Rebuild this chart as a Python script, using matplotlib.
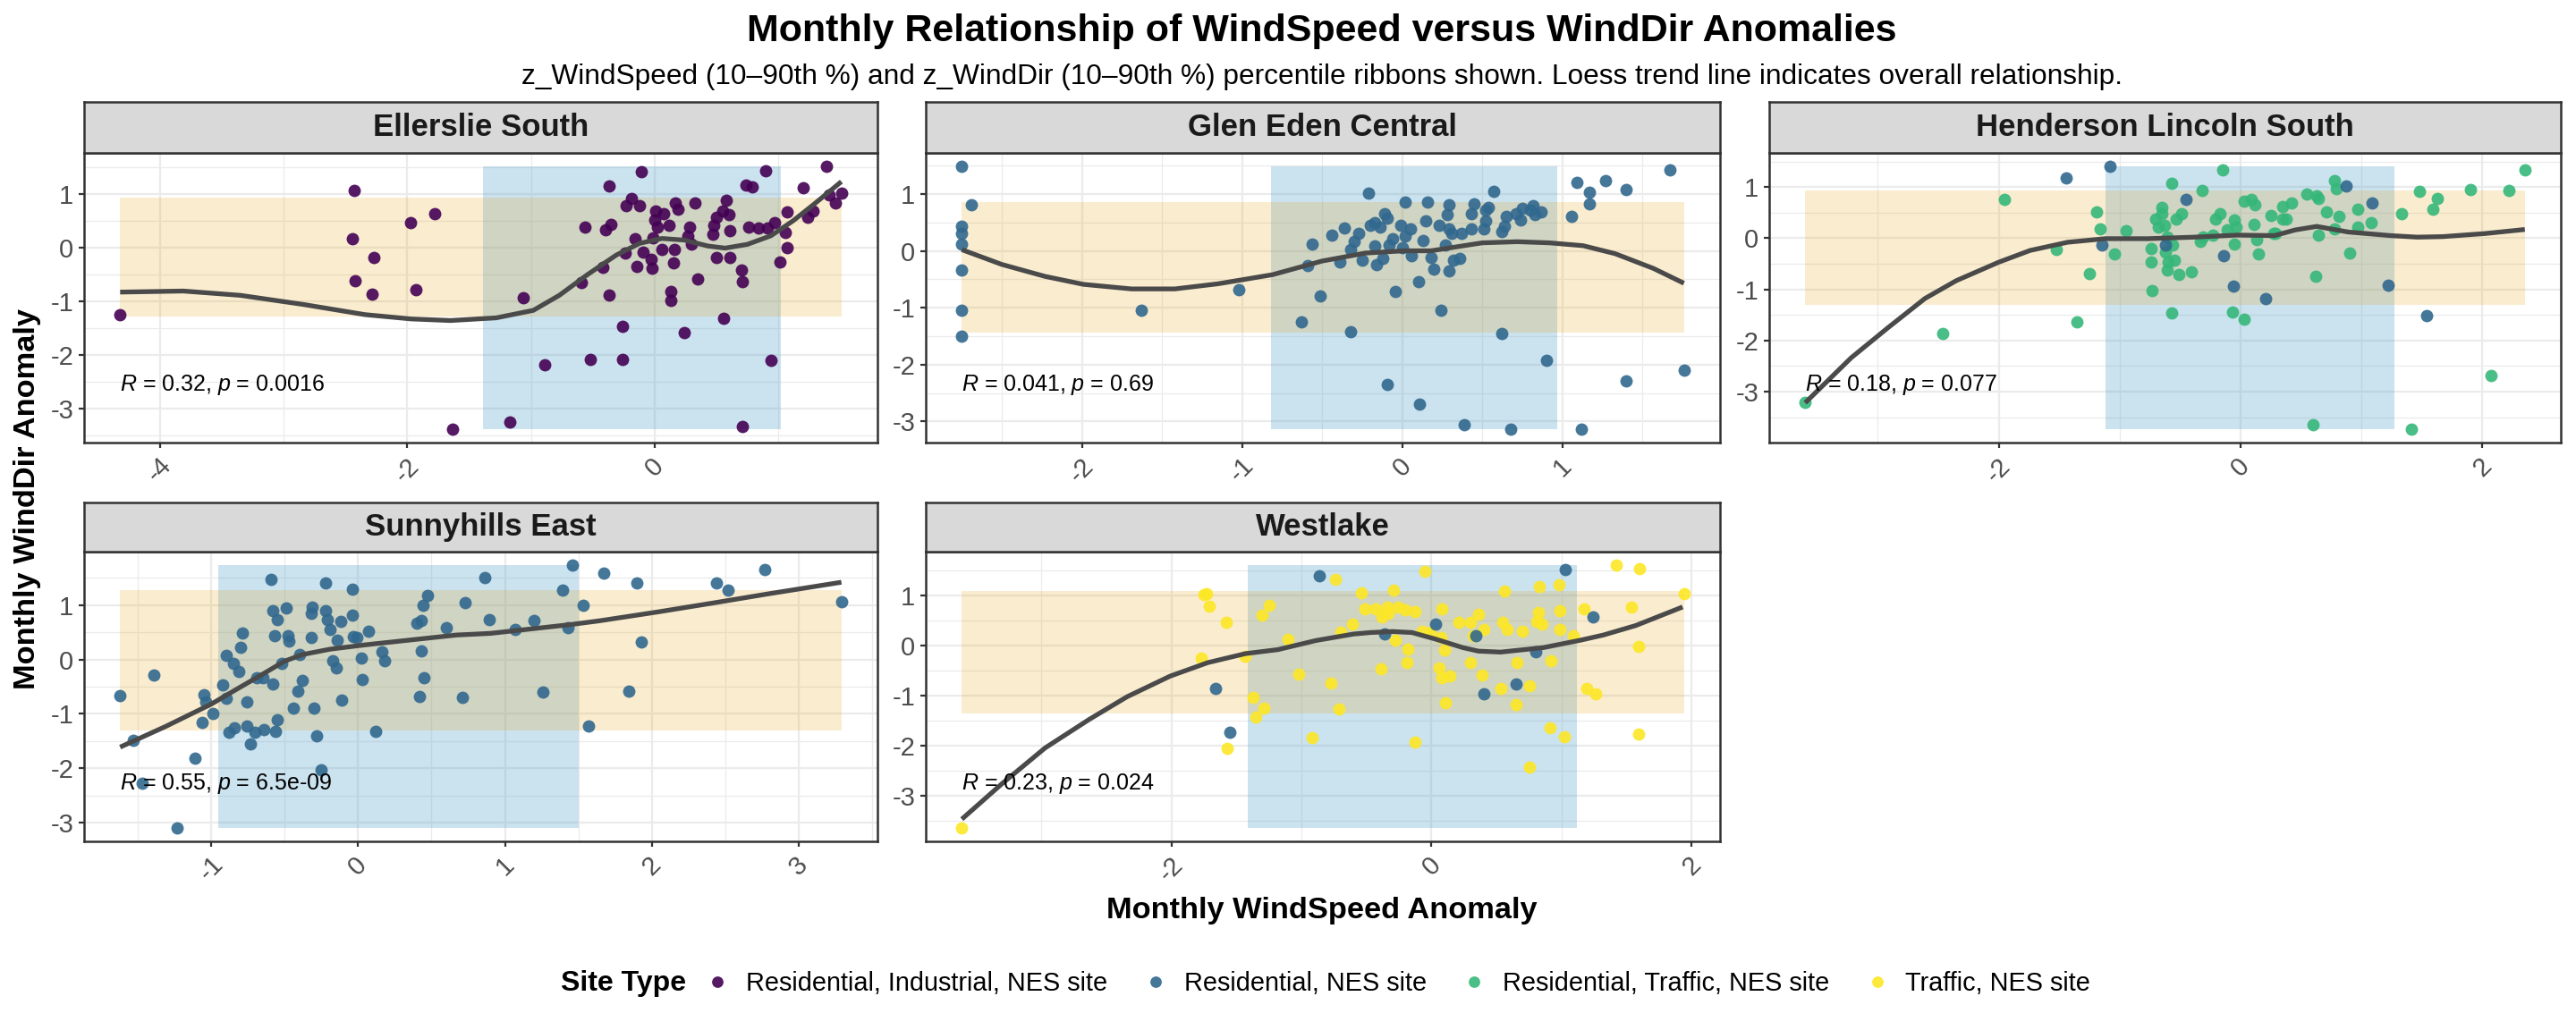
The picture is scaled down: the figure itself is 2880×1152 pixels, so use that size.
import numpy as np
import matplotlib
matplotlib.use("Agg")
import matplotlib.pyplot as plt
from matplotlib.lines import Line2D
from matplotlib.ticker import FixedLocator
import matplotlib.transforms as mtransforms

plt.rcParams['font.family'] = ['Liberation Sans', 'DejaVu Sans']
plt.rcParams['axes.unicode_minus'] = False
plt.rcParams['mathtext.fontset'] = 'custom'
plt.rcParams['mathtext.rm'] = 'Liberation Sans'
plt.rcParams['mathtext.it'] = 'Liberation Sans:italic'

# ---------------- data ----------------
site_names = ["Ellerslie South", "Glen Eden Central", "Henderson Lincoln South",
              "Sunnyhills East", "Westlake"]
site_types = ["Residential, Industrial, NES site", "Residential, NES site",
              "Residential, Traffic, NES site", "Traffic, NES site"]
type_colors = ["#440154", "#31688E", "#35B779", "#FDE725"]

# Ellerslie South (Residential, Industrial)
es_x = [-4.32, -2.43, -2.44, -2.42, -2.27, -2.28, -1.97, -1.78, -1.93, -1.63, -1.17, -1.06,
        -0.89, -0.59, -0.56, -0.52, -0.42, -0.40, -0.35, -0.37, -0.37, -0.26, -0.26, -0.24,
        -0.23, -0.19, -0.16, -0.14, -0.12, -0.11, -0.09, -0.03, -0.02, -0.01, 0.00, 0.01,
        0.02, 0.06, 0.07, 0.12, 0.13, 0.13, 0.15, 0.16, 0.17, 0.19, 0.24, 0.27, 0.28, 0.30,
        0.33, 0.35, 0.47, 0.48, 0.50, 0.50, 0.55, 0.56, 0.58, 0.60, 0.61, 0.61, 0.70, 0.71,
        0.71, 0.74, 0.79, 0.76, 0.84, 0.90, 0.91, 0.94, 0.97, 1.01, 1.06, 1.07, 1.07, 1.20,
        1.24, 1.28, 1.39, 1.41, 1.46, 1.51]
es_y = [-1.26, 1.07, 0.16, -0.61, -0.18, -0.87, 0.47, 0.64, -0.79, -3.39, -3.26, -0.93,
        -2.19, -0.65, 0.39, -2.09, -0.37, 0.34, 0.44, 1.15, -0.89, -1.47, -2.09, -0.10,
        0.79, 0.92, 0.17, -0.35, 0.79, 1.41, -0.09, -0.22, -0.39, 0.18, 0.52, 0.68,
        0.39, -0.03, 0.64, 0.41, -0.82, -0.98, -0.28, -0.04, 0.83, 0.72, -1.59, 0.22, 0.39, 0.06,
        0.84, -0.59, 0.25, 0.42, 0.56, -0.18, 0.69, -1.32, 0.88, 0.61, 0.31, -0.19, -0.42, -0.63,
        -3.34, 1.17, 1.13, 0.38, 0.37, 1.44, 0.36, -2.10, 0.47, -0.26, 0.28, 0.00, 0.66, 1.11,
        0.56, 0.68, 1.52, 0.99, 0.84, 1.02]
es_xq = [-1.39, 1.02]
es_yq = [-1.29, 0.94]
es_fit_x = [-4.32, -3.81, -3.35, -2.84, -2.34, -1.97, -1.65, -1.28, -0.98, -0.77, -0.54, -0.31,
            -0.12, 0.06, 0.24, 0.43, 0.57, 0.75, 0.94, 1.12, 1.30, 1.51]
es_fit_y = [-0.83, -0.81, -0.89, -1.06, -1.25, -1.33, -1.36, -1.31, -1.17, -0.89, -0.50, -0.14,
            0.08, 0.17, 0.14, 0.03, -0.01, 0.06, 0.22, 0.50, 0.83, 1.23]
es_stat = "$\\it{R}$ = 0.32, $\\it{p}$ = 0.0016"

# Glen Eden Central (Residential)
ge_x = [-2.75, -2.69, -2.75, -2.75, -2.75, -2.75, -2.75, -2.75, -1.63, -1.02, -0.63, -0.59,
        -0.56, -0.51, -0.44, -0.39, -0.36, -0.32, -0.32, -0.30, -0.27, -0.25, -0.21, -0.20,
        -0.17, -0.17, -0.16, -0.14, -0.12, -0.11, -0.09, -0.09, -0.08, -0.06, -0.04, -0.01,
        0.00, 0.02, 0.02, 0.05, 0.06, 0.10, 0.11, 0.13, 0.15, 0.16, 0.18, 0.20, 0.23, 0.24,
        0.27, 0.28, 0.29, 0.29, 0.29, 0.31, 0.32, 0.36, 0.37, 0.39, 0.43, 0.43, 0.45, 0.51,
        0.52, 0.52, 0.54, 0.57, 0.62, 0.62, 0.64, 0.65, 0.68, 0.71, 0.74, 0.75, 0.80, 0.82,
        0.83, 0.87, 0.90, 1.06, 1.09, 1.12, 1.17, 1.17, 1.27, 1.40, 1.40, 1.67, 1.76]
ge_y = [1.49, 0.81, 0.43, 0.30, 0.12, -0.34, -1.05, -1.50, -1.05, -0.68, -1.25, -0.26,
        0.12, -0.79, 0.28, -0.19, 0.40, 0.03, -1.43, 0.17, 0.31, -0.17, 1.01, 0.45,
        0.09, 0.49, -0.24, 0.41, -0.14, 0.65, 0.57, -2.35, 0.10, 0.21, -0.72, 0.45,
        0.06, 0.85, 0.26, 0.39, -0.08, -0.54, -2.69, 0.18, 0.52, 0.85, -0.12, -0.32, 0.45, -1.05,
        0.10, 0.64, 0.81, 0.39, -0.36, 0.31, -0.17, -0.13, 0.31, -3.05, 0.39, 0.65, 0.82, 0.39,
        0.52, 0.71, 0.76, 1.04, -1.46, 0.34, 0.43, 0.60, -3.14, 0.65, 0.54, 0.74, 0.71, 0.80,
        0.63, 0.69, -1.92, 0.60, 1.20, -3.14, 1.03, 0.83, 1.23, 1.07, -2.28, 1.42, -2.10]
ge_xq = [-0.82, 0.97]
ge_yq = [-1.44, 0.85]
ge_fit_x = [-2.75, -2.50, -2.23, -1.99, -1.69, -1.42, -1.15, -0.81, -0.50, -0.23, 0.01, 0.18,
            0.50, 0.72, 0.92, 1.13, 1.33, 1.57, 1.76]
ge_fit_y = [0.02, -0.24, -0.45, -0.59, -0.67, -0.67, -0.58, -0.42, -0.18, -0.04, 0.00, 0.00,
            0.14, 0.16, 0.14, 0.09, -0.05, -0.31, -0.57]
ge_stat = "$\\it{R}$ = 0.041, $\\it{p}$ = 0.69"

# Henderson Lincoln South (Residential, Traffic) + some Residential points
hl_x = [-3.60, -2.46, -1.95, -1.52, -1.35, -1.25, -1.19, -1.16, -1.04, -0.95, -0.74, -0.74,
        -0.73, -0.70, -0.68, -0.65, -0.65, -0.63, -0.62, -0.61, -0.61, -0.60, -0.57, -0.57,
        -0.56, -0.55, -0.53, -0.51, -0.49, -0.41, -0.33, -0.32, -0.31, -0.23, -0.21, -0.17,
        -0.15, -0.11, -0.07, -0.05, -0.05, -0.04, 0.03, 0.03, 0.09, 0.11, 0.12, 0.13, 0.15,
        0.25, 0.27, 0.29, 0.35, 0.35, 0.38, 0.42, 0.55, 0.60, 0.62, 0.63, 0.64, 0.64, 0.71,
        0.78, 0.78, 0.79, 0.81, 0.90, 0.97, 0.97, 1.08, 1.33, 1.41, 1.48, 1.59, 1.63, 1.90,
        2.07, 2.22, 2.35]
hl_y = [-3.21, -1.86, 0.76, -0.22, -1.63, -0.69, 0.51, 0.19, -0.30, 0.14, -0.20, -0.47,
        -1.02, 0.37, 0.21, 0.60, 0.48, 0.25, -0.27, 0.02, -0.62, -0.47, -1.47, 1.07,
        -0.13, -0.43, 0.37, -0.71, 0.47, -0.66, -0.07, 0.93, 0.02, 0.06, 0.38, 0.47,
        1.34, 0.16, -1.45, -0.11, 0.36, 0.21, 0.72, -1.59, 0.75, 0.27, 0.66, -0.03, -0.30,
        0.44, 0.10, 0.10, 0.61, 0.38, 0.38, 0.69, 0.87, -3.64, -0.74, 0.83, 0.77, 0.06, 0.51,
        1.13, 0.19, 0.96, 0.43, -0.29, 0.57, 0.21, 0.31, 0.48, -3.74, 0.92, 0.57, 0.78, 0.95,
        -2.68, 0.93, 1.34]
hl_res_x = [-1.44, -1.15, -1.08, -0.62, -0.45, -0.14, -0.06, 0.21, 0.87, 1.09, 1.22, 1.54]
hl_res_y = [1.18, -0.13, 1.41, -0.13, 0.75, -0.35, -0.94, -1.18, 1.02, 0.68, -0.92, -1.51]
hl_xq = [-1.12, 1.27]
hl_yq = [-1.31, 0.94]
hl_fit_x = [-3.60, -3.22, -2.92, -2.61, -2.35, -2.00, -1.74, -1.43, -1.12, -0.77, -0.38, -0.03,
            0.28, 0.45, 0.63, 0.89, 1.24, 1.46, 1.67, 2.02, 2.35]
hl_fit_y = [-3.22, -2.34, -1.76, -1.18, -0.83, -0.47, -0.24, -0.08, -0.01, -0.01, 0.02, 0.06,
            0.05, 0.16, 0.23, 0.12, 0.05, 0.02, 0.03, 0.09, 0.17]
hl_stat = "$\\it{R}$ = 0.18, $\\it{p}$ = 0.077"

# Sunnyhills East (Residential)
sh_x = [-1.62, -1.53, -1.47, -1.39, -1.23, -1.11, -1.06, -1.05, -1.04, -0.99, -0.92, -0.90,
        -0.90, -0.88, -0.85, -0.84, -0.81, -0.80, -0.79, -0.76, -0.76, -0.73, -0.70, -0.69,
        -0.65, -0.64, -0.59, -0.58, -0.58, -0.57, -0.56, -0.55, -0.55, -0.52, -0.49, -0.48,
        -0.47, -0.44, -0.41, -0.40, -0.38, -0.32, -0.32, -0.31, -0.30, -0.28, -0.25, -0.22,
        -0.22, -0.21, -0.19, -0.17, -0.15, -0.14, -0.12, -0.11, -0.04, -0.04, -0.03, -0.01,
        0.02, 0.03, 0.07, 0.12, 0.16, 0.18, 0.40, 0.42, 0.43, 0.43, 0.44, 0.45, 0.47, 0.60,
        0.71, 0.73, 0.86, 0.89, 1.07, 1.20, 1.26, 1.39, 1.43, 1.46, 1.53, 1.57, 1.67, 1.84,
        1.90, 1.93, 2.44, 2.52, 2.77, 3.29]
sh_y = [-0.66, -1.49, -2.28, -0.28, -3.10, -1.81, -1.15, -0.64, -0.78, -0.99, -0.47, 0.07,
        -0.72, -1.33, -0.08, -1.26, -0.22, 0.22, 0.48, -1.23, -0.78, -1.55, -1.34, -0.34,
        -0.33, -1.29, 1.48, -0.45, 0.90, 0.43, -1.32, -1.11, 0.73, -0.08, 0.95, 0.44,
        0.34, -0.89, -0.58, 0.10, -0.38, 0.40, 0.85, 0.96, -0.90, -1.41, -2.03, 1.40,
        0.89, 0.74, 0.56, -0.02, -0.16, 0.36, 0.70, -0.74, 1.29, 0.81, 0.42, 0.40,
        0.03, -0.36, 0.52, -1.32, 0.14, -0.02, 0.66, -0.68, 0.72, 0.16, 1.00, -0.33, 1.18, 0.59,
        -0.70, 1.04, 1.51, 0.73, 0.55, 0.71, -0.60, 1.27, 0.58, 1.74, 0.99, -1.22, 1.58, -0.58,
        1.40, 0.33, 1.40, 1.28, 1.66, 1.06]
sh_xq = [-0.95, 1.50]
sh_yq = [-1.30, 1.27]
sh_fit_x = [-1.62, -1.31, -1.00, -0.81, -0.65, -0.50, -0.38, -0.19, 0.05, 0.36, 0.67, 0.90,
            1.17, 1.44, 1.64, 2.03, 2.42, 2.80, 3.29]
sh_fit_y = [-1.61, -1.23, -0.82, -0.52, -0.27, -0.03, 0.09, 0.19, 0.27, 0.36, 0.45, 0.48,
            0.56, 0.64, 0.71, 0.87, 1.04, 1.21, 1.42]
sh_stat = "$\\it{R}$ = 0.55, $\\it{p}$ = 6.5e-09"

# Westlake (Traffic) + some Residential points
wl_x = [-3.61, -1.77, -1.75, -1.73, -1.71, -1.58, -1.57, -1.43, -1.37, -1.35, -1.30, -1.29,
        -1.25, -1.10, -1.02, -0.92, -0.77, -0.74, -0.71, -0.70, -0.61, -0.54, -0.51, -0.43,
        -0.39, -0.38, -0.34, -0.33, -0.29, -0.28, -0.26, -0.20, -0.19, -0.18, -0.13, -0.13,
        -0.07, -0.05, -0.01, 0.06, 0.07, 0.08, 0.08, 0.10, 0.11, 0.14, 0.21, 0.30, 0.30, 0.32,
        0.36, 0.39, 0.40, 0.53, 0.55, 0.56, 0.58, 0.65, 0.66, 0.70, 0.75, 0.75, 0.81, 0.82,
        0.83, 0.85, 0.91, 0.92, 0.98, 0.99, 0.99, 1.02, 1.09, 1.17, 1.19, 1.26, 1.42, 1.54,
        1.59, 1.59, 1.60, 1.94]
wl_y = [-3.64, -0.25, 1.01, 1.03, 0.79, 0.46, -2.04, -0.21, -1.04, -1.42, 0.60, -1.24,
        0.81, 0.13, -0.57, -1.83, -0.74, 1.32, -1.27, 0.27, 0.43, 1.06, 0.73, 0.73,
        -0.47, 0.57, 0.76, 0.64, 1.11, 0.11, 0.76, 0.72, -0.34, -0.07, 0.68, -1.92,
        0.29, 1.48, 0.26, -0.45, 0.17, 0.73, -0.64, -0.08, -1.14, -0.61, 0.46, -0.33, 0.46, 0.20,
        0.63, -0.59, 0.32, -0.85, 0.46, 1.09, 0.32, -1.17, -0.34, 0.29, -0.80, -2.42, 0.49, 0.66,
        1.17, 0.42, -1.63, -0.30, 1.21, 0.69, 0.32, -1.81, 0.20, 0.73, -0.86, -0.96, 1.61, 0.77,
        -0.02, -1.77, 1.54, 1.04]
wl_res_x = [-1.66, -1.55, -0.86, -0.36, 0.03, 0.34, 0.40, 0.65, 0.80, 1.03, 1.24]
wl_res_y = [-0.85, -1.72, 1.40, 0.23, 0.43, 0.20, -0.96, -0.76, -0.13, 1.52, 0.58]
wl_xq = [-1.41, 1.12]
wl_yq = [-1.36, 1.08]
wl_fit_x = [-3.61, -3.30, -2.97, -2.63, -2.34, -2.01, -1.72, -1.43, -1.18, -0.89, -0.60, -0.47,
            -0.30, -0.15, 0.03, 0.24, 0.36, 0.53, 0.86, 1.15, 1.32, 1.57, 1.93]
wl_fit_y = [-3.46, -2.75, -2.04, -1.47, -1.02, -0.61, -0.34, -0.16, -0.08, 0.10, 0.23, 0.26,
            0.28, 0.26, 0.13, -0.04, -0.11, -0.13, -0.04, 0.11, 0.21, 0.40, 0.77]
wl_stat = "$\\it{R}$ = 0.23, $\\it{p}$ = 0.024"

# tick breaks per panel
es_xticks = [-4, -2, 0]
ge_xticks = [-2, -1, 0, 1]
hl_xticks = [-2, 0, 2]
sh_xticks = [-1, 0, 1, 2, 3]
wl_xticks = [-2, 0, 2]
yticks_all = [-3, -2, -1, 0, 1]

panels = [
    dict(name=site_names[0], groups=[(es_x, es_y, 0)], xq=es_xq, yq=es_yq,
         fx=es_fit_x, fy=es_fit_y, stat=es_stat, xt=es_xticks, xstep=2),
    dict(name=site_names[1], groups=[(ge_x, ge_y, 1)], xq=ge_xq, yq=ge_yq,
         fx=ge_fit_x, fy=ge_fit_y, stat=ge_stat, xt=ge_xticks, xstep=1),
    dict(name=site_names[2], groups=[(hl_x, hl_y, 2), (hl_res_x, hl_res_y, 1)], xq=hl_xq, yq=hl_yq,
         fx=hl_fit_x, fy=hl_fit_y, stat=hl_stat, xt=hl_xticks, xstep=2),
    dict(name=site_names[3], groups=[(sh_x, sh_y, 1)], xq=sh_xq, yq=sh_yq,
         fx=sh_fit_x, fy=sh_fit_y, stat=sh_stat, xt=sh_xticks, xstep=1),
    dict(name=site_names[4], groups=[(wl_x, wl_y, 3), (wl_res_x, wl_res_y, 1)], xq=wl_xq, yq=wl_yq,
         fx=wl_fit_x, fy=wl_fit_y, stat=wl_stat, xt=wl_xticks, xstep=2),
]

# ---------------- layout ----------------
W, H = 2880, 1152
DPI = 200
fig = plt.figure(figsize=(W / DPI, H / DPI), dpi=DPI)
fig.patch.set_facecolor("white")

def rect(l, t, r, b):
    return [l / W, 1 - b / H, (r - l) / W, (b - t) / H]

cols = [(94, 981), (1035, 1923), (1978, 2863)]
rows = [(114, 171, 495), (562, 617, 941)]

BORDER = "#333333"
GRID = "#EBEBEB"
TICKC = "#4D4D4D"

for i, p in enumerate(panels):
    r, c = divmod(i, 3)
    l, rr = cols[c]
    st, pt, pb = rows[r]
    ax = fig.add_axes(rect(l, pt, rr, pb))
    sax = fig.add_axes(rect(l, st, rr, pt))

    allx = np.concatenate([np.asarray(g[0]) for g in p["groups"]])
    ally = np.concatenate([np.asarray(g[1]) for g in p["groups"]])
    xmin, xmax = allx.min(), allx.max()
    ymin, ymax = ally.min(), ally.max()
    dx, dy = (xmax - xmin) * 0.05, (ymax - ymin) * 0.05
    ax.set_xlim(xmin - dx, xmax + dx)
    ax.set_ylim(ymin - dy, ymax + dy)

    # ticks & grid
    ax.xaxis.set_major_locator(FixedLocator(p["xt"]))
    xs = p["xstep"]
    xminor = np.arange(np.floor((xmin - dx) / xs) * xs - xs / 2, xmax + dx + xs, xs)
    ax.xaxis.set_minor_locator(FixedLocator([v for v in xminor if xmin - dx < v < xmax + dx]))
    ax.yaxis.set_major_locator(FixedLocator(yticks_all))
    yminor = np.arange(-4.5, 2.6, 1.0)
    ax.yaxis.set_minor_locator(FixedLocator([v for v in yminor if ymin - dy < v < ymax + dy]))
    ax.set_xticklabels([f"{v:g}" for v in p["xt"]])
    ax.set_yticklabels([f"{v:g}" for v in yticks_all])
    ax.grid(True, which="major", color=GRID, linewidth=0.8, zorder=0)
    ax.grid(True, which="minor", color=GRID, linewidth=0.45, zorder=0)
    ax.set_axisbelow(True)
    ax.tick_params(which="major", length=2.2, width=0.8, color=BORDER, labelcolor=TICKC,
                   labelsize=10.5, pad=2)
    ax.tick_params(which="minor", length=0)
    for lab in ax.get_xticklabels():
        lab.set_rotation(45)
        lab.set_ha("center")
        lab.set_va("top")
    for sp in ax.spines.values():
        sp.set_color(BORDER)
        sp.set_linewidth(0.9)

    # ribbons
    ax.fill_between([p["xq"][0], p["xq"][1]], ymin, ymax, color="#55A2CA", alpha=0.3,
                    linewidth=0, zorder=1)
    ax.fill_between([xmin, xmax], p["yq"][0], p["yq"][1], color="#E6A00F", alpha=0.2,
                    linewidth=0, zorder=1.1)

    # points
    for gx, gy, t in p["groups"]:
        ax.scatter(gx, gy, s=25, color=type_colors[t], alpha=0.9, linewidths=0, zorder=3)

    # trend line
    ax.plot(p["fx"], p["fy"], color="#4A4A4A", linewidth=1.9, zorder=4,
            solid_capstyle="butt", solid_joinstyle="round")

    # stat label
    trans = mtransforms.blended_transform_factory(ax.transData, ax.transAxes)
    ax.text(xmin, 0.2, p["stat"], transform=trans, ha="left", va="center",
            fontsize=9, color="black", zorder=5)

    # strip
    sax.set_facecolor("#D9D9D9")
    sax.set_xticks([])
    sax.set_yticks([])
    for sp in sax.spines.values():
        sp.set_color(BORDER)
        sp.set_linewidth(0.9)
    sax.text(0.5, 0.5, p["name"], transform=sax.transAxes, ha="center", va="center",
             fontsize=12.5, fontweight="bold", color="#1A1A1A")

# titles
fig.text(1478 / W, 1 - 35 / H, "Monthly Relationship of WindSpeed versus WindDir Anomalies",
         ha="center", va="center", fontsize=15.5, fontweight="bold")
fig.text(1478 / W, 1 - 86 / H,
         "z_WindSpeed (10\u201390th %) and z_WindDir (10\u201390th %) percentile ribbons shown. "
         "Loess trend line indicates overall relationship.",
         ha="center", va="center", fontsize=11.4)
fig.text(1478 / W, 1 - 1018 / H, "Monthly WindSpeed Anomaly", ha="center", va="center",
         fontsize=12.4, fontweight="bold")
fig.text(31 / W, 1 - 558 / H, "Monthly WindDir Anomaly", ha="center", va="center",
         rotation=90, fontsize=12.4, fontweight="bold")

# legend
fig.text(627 / W, 1 - 1100 / H, "Site Type", ha="left", va="center", fontsize=11.5,
         fontweight="bold")
handles = [Line2D([0], [0], marker="o", linestyle="none", markersize=4.6,
                  markerfacecolor=c, markeredgewidth=0, alpha=0.9) for c in type_colors]
leg = fig.legend(handles, site_types, loc="center left", bbox_to_anchor=(788 / W, 1 - 1100 / H),
                 ncol=4, frameon=False, fontsize=10.4, handlelength=1.0, handletextpad=0.6,
                 columnspacing=1.35, borderpad=0, borderaxespad=0)

fig.savefig("out.png", dpi=DPI)
